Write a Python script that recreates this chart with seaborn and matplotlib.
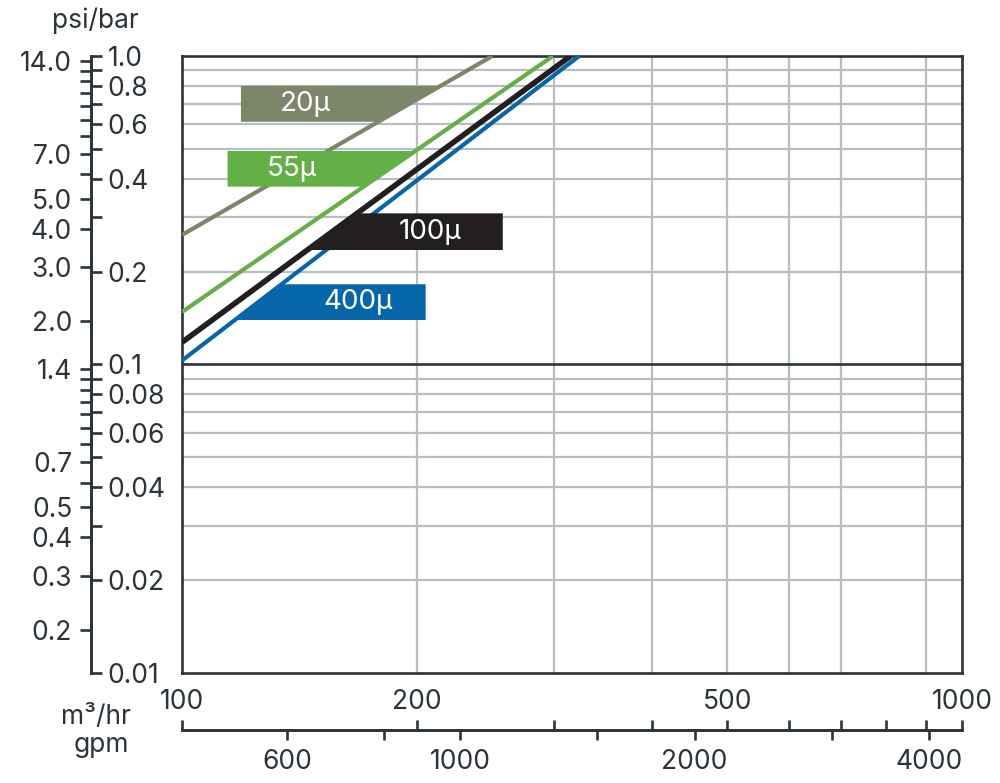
import numpy as np
import pandas as pd
import matplotlib
matplotlib.use("Agg")
import matplotlib.pyplot as plt
import matplotlib.ticker as mticker
from matplotlib.patches import Polygon
import seaborn as sns

# ---------------- data ----------------
series = ["20µ", "55µ", "100µ", "400µ"]
flow_start = [100, 100, 100, 100]           # m³/hr
flow_end = [250, 299, 315, 323]             # m³/hr (where each curve reaches 1.0 bar)
dp_start = [0.263, 0.148, 0.118, 0.103]     # bar
dp_end = [1.0, 1.0, 1.0, 1.0]               # bar

bar_ticks = [1.0, 0.9, 0.8, 0.7, 0.6, 0.5, 0.4, 0.3, 0.2, 0.1,
             0.09, 0.08, 0.07, 0.06, 0.05, 0.04, 0.03, 0.02, 0.01]
bar_labels = ["1.0", "", "0.8", "", "0.6", "", "0.4", "", "0.2", "0.1",
              "", "0.08", "", "0.06", "", "0.04", "", "0.02", "0.01"]
psi_ticks = [14, 13, 12, 11, 10, 9, 8, 7, 6, 5, 4, 3, 2, 1.4, 1.3, 1.2, 1.1,
             1.0, 0.9, 0.8, 0.7, 0.6, 0.5, 0.4, 0.3, 0.2]
psi_labels = ["14.0", "", "", "", "", "", "", "7.0", "", "5.0", "4.0", "3.0",
              "2.0", "1.4", "", "", "", "", "", "", "0.7", "", "0.5", "0.4",
              "0.3", "0.2"]
m3_ticks = [100, 200, 300, 400, 500, 600, 700, 800, 900, 1000]
m3_labels = ["100", "200", "", "", "500", "", "", "", "", "1000"]
gpm_ticks = [600, 800, 1000, 1500, 2000, 3000, 4000]
gpm_labels = ["600", "", "1000", "", "2000", "", "4000"]
grid_x = [200, 300, 400, 500, 600, 700, 900]
grid_y = [0.02, 0.03, 0.04, 0.05, 0.06, 0.07, 0.08, 0.09,
          0.2, 0.3, 0.4, 0.5, 0.6, 0.7, 0.8, 0.9]

PSI_PER_BAR = 14.5038
GPM_PER_M3H = 4.403

# ---------------- style ----------------
colors = ["#7e866a", "#63b146", "#231f20", "#0567aa"]
line_widths = [3.0, 3.0, 4.0, 3.0]
dark = "#2b333b"
grid_col = "#b8bec4"
fs = 19
flag_fs = 20

# label flags: (y low, y high, outer x edge, side of the line, text x)
flag_ylo = [0.612, 0.377, 0.235, 0.1394]
flag_yhi = [0.80, 0.492, 0.309, 0.182]
flag_xout = [119, 114.4, 257.8, 205.3]
flag_tx = [144, 138.4, 208, 168]

sns.set_style("white")
plt.rcParams["font.family"] = ["Inter", "DejaVu Sans"]

df = pd.DataFrame({
    "series": np.repeat(series, 2),
    "flow": np.ravel(np.column_stack([flow_start, flow_end])),
    "dp": np.ravel(np.column_stack([dp_start, dp_end])),
})

fig = plt.figure(figsize=(10, 7.83), dpi=100)
ax = fig.add_axes([0.182, 0.1405, 0.78, 0.788])
ax.set_xscale("log")
ax.set_yscale("log")
ax.set_xlim(100, 1000)
ax.set_ylim(0.01, 1.0)

sns.lineplot(data=df, x="flow", y="dp", hue="series", hue_order=series,
             palette=colors, legend=False, ax=ax, estimator=None, sort=False,
             zorder=3)
for ln, lw in zip(ax.lines, line_widths):
    ln.set_linewidth(lw)
    ln.set_solid_capstyle("butt")

# grid
ax.set_xticks(grid_x)
ax.set_xticks([], minor=True)
ax.set_yticks(grid_y)
ax.set_yticks([], minor=True)
ax.tick_params(which="both", length=0, labelbottom=False, labelleft=False)
ax.grid(True, color=grid_col, linewidth=1.6, zorder=1)
ax.set_axisbelow(True)
ax.axhline(0.1, color=dark, linewidth=1.9, zorder=2)
ax.set_xlabel("")
ax.set_ylabel("")
for s in ax.spines.values():
    s.set_visible(True)
    s.set_color(dark)
    s.set_linewidth(1.9)

# label flags attached to the lines
for i, name in enumerate(series):
    x0, y0 = flow_start[i], dp_start[i]
    slope = np.log10(dp_end[i] / y0) / np.log10(flow_end[i] / x0)
    xl = lambda y: x0 * (y / y0) ** (1.0 / slope)
    ylo, yhi = flag_ylo[i], flag_yhi[i]
    xo = flag_xout[i]
    verts = [(xo, ylo), (xo, yhi), (xl(yhi), yhi), (xl(ylo), ylo)]
    ax.add_patch(Polygon(verts, closed=True, facecolor=colors[i],
                         edgecolor="none", zorder=4))
    ax.text(flag_tx[i], np.sqrt(ylo * yhi), name, color="white",
            fontsize=flag_fs, ha="center", va="center", zorder=5)

# left axes: bar (right side ticks) and psi (left side ticks)
yloc = (91 - 182) / 780
bar_ax = ax.secondary_yaxis(yloc)
bar_ax.set_alignment("right")
bar_ax.set_yticks(bar_ticks, bar_labels)
bar_ax.yaxis.set_minor_locator(mticker.NullLocator())
bar_ax.tick_params(axis="y", which="major", direction="out", length=8,
                   width=1.9, color=dark, pad=4, labelsize=fs, labelcolor=dark)
for s in bar_ax.spines.values():
    s.set_color(dark)
    s.set_linewidth(1.9)

psi_ax = ax.secondary_yaxis(yloc, functions=(lambda b: b * PSI_PER_BAR,
                                             lambda p: p / PSI_PER_BAR))
psi_ax.set_yticks(psi_ticks, psi_labels)
psi_ax.yaxis.set_minor_locator(mticker.NullLocator())
psi_ax.tick_params(axis="y", which="major", direction="out", length=8,
                   width=1.9, color=dark, pad=5.5, labelsize=fs, labelcolor=dark)
for s in psi_ax.spines.values():
    s.set_color(dark)
    s.set_linewidth(1.9)

# bottom axes: m³/hr (up) and gpm (down)
xloc = -(730 - 673) / 617
m3_ax = ax.secondary_xaxis(xloc)
m3_ax.set_alignment("top")
m3_ax.set_xticks(m3_ticks, m3_labels)
m3_ax.xaxis.set_minor_locator(mticker.NullLocator())
m3_ax.tick_params(axis="x", which="major", direction="out", length=7,
                  width=1.9, color=dark, pad=4, labelsize=fs, labelcolor=dark)
for s in m3_ax.spines.values():
    s.set_color(dark)
    s.set_linewidth(1.9)

gpm_ax = ax.secondary_xaxis(xloc, functions=(lambda q: q * GPM_PER_M3H,
                                             lambda g: g / GPM_PER_M3H))
gpm_ax.set_xticks(gpm_ticks, gpm_labels)
gpm_ax.xaxis.set_minor_locator(mticker.NullLocator())
gpm_ax.tick_params(axis="x", which="major", direction="out", length=7,
                   width=1.9, color=dark, pad=7, labelsize=fs, labelcolor=dark)
for s in gpm_ax.spines.values():
    s.set_color(dark)
    s.set_linewidth(1.9)

# axis titles
fig.text(0.095, 1 - 28 / 783, "psi/bar", ha="center", va="baseline",
         fontsize=fs, color=dark)
fig.text(0.096, 1 - 724 / 783, "m³/hr", ha="center", va="baseline",
         fontsize=fs, color=dark)
fig.text(0.101, 1 - 752 / 783, "gpm", ha="center", va="baseline",
         fontsize=fs, color=dark)

fig.savefig("out.png", dpi=100)
